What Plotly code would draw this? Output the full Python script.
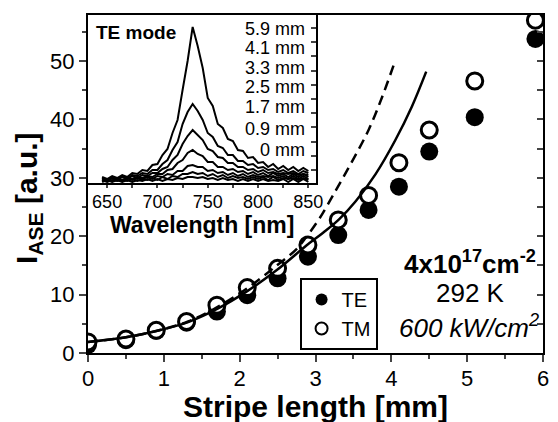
import plotly.graph_objects as go

# ---------------- data ----------------
stripe_len = [0, 0.5, 0.9, 1.3, 1.7, 2.1, 2.5, 2.9, 3.3, 3.7, 4.1, 4.5, 5.1, 5.9]
te_vals = [1.4, 2.2, 3.8, 5.2, 7.1, 9.9, 12.8, 16.5, 20.2, 24.5, 28.5, 34.5, 40.4, 53.8]
tm_vals = [1.9, 2.4, 3.9, 5.4, 8.2, 11.2, 14.5, 18.5, 22.8, 27.0, 32.6, 38.2, 46.6, 57.0]

fit_solid_x = [0, 0.5, 0.94, 1.32, 1.71, 2.1, 2.49, 2.88, 3.1, 3.31, 3.53, 3.79, 4.05, 4.27, 4.46]
fit_solid_y = [1.9, 2.7, 3.9, 5.3, 7.6, 10.6, 14.2, 18.4, 20.6, 22.9, 26.0, 30.6, 36.4, 42.2, 48.2]
fit_dash_x = [0, 0.5, 0.94, 1.32, 1.71, 2.1, 2.49, 2.75, 2.88, 3.05, 3.27, 3.49, 3.70, 3.88, 4.03]
fit_dash_y = [1.9, 2.7, 3.9, 5.4, 7.9, 11.1, 15.0, 17.8, 19.9, 23.0, 27.9, 33.0, 38.2, 43.9, 49.3]

wavelength = [645, 650, 655, 660, 665, 670, 675, 680, 685, 690, 695, 700, 705, 710,
              715, 720, 725, 730, 735, 740, 745, 750, 755, 760, 765, 770, 775, 780,
              785, 790, 795, 800, 805, 810, 815, 820, 825, 830, 835, 840, 845, 850]
spec_59 = [6, 4, 7, 5, 8, 6, 10, 9, 13, 12, 18, 19, 28, 34, 50, 63, 93, 122, 156, 137, 115,
           85, 77, 59, 55, 44, 42, 33, 32, 25, 26, 20, 21, 16, 19, 14, 17, 13, 16, 12, 15, 12]
spec_41 = [4, 2, 6, 3, 7, 4, 8, 7, 10, 9, 13, 13, 19, 23, 33, 41, 59, 71, 79, 72, 63,
           50, 46, 37, 35, 28, 28, 22, 22, 18, 19, 15, 16, 13, 14, 11, 13, 10, 12, 9, 12, 10]
spec_33 = [5, 2, 5, 3, 6, 4, 7, 5, 8, 7, 10, 10, 14, 16, 23, 28, 39, 47, 53, 48, 43,
           34, 32, 26, 25, 20, 20, 16, 16, 13, 14, 11, 13, 10, 11, 9, 10, 9, 10, 8, 9, 8]
spec_25 = [3, 4, 2, 5, 3, 5, 4, 6, 5, 7, 6, 9, 9, 13, 14, 20, 23, 30, 33, 29, 27,
           21, 21, 16, 16, 13, 14, 11, 12, 9, 11, 8, 10, 7, 10, 7, 9, 6, 9, 6, 9, 6]
spec_17 = [2, 4, 2, 4, 2, 5, 3, 5, 4, 6, 4, 7, 6, 9, 8, 12, 12, 17, 18, 16, 16,
           12, 13, 10, 11, 8, 10, 7, 9, 6, 8, 6, 7, 6, 7, 5, 7, 4, 7, 4, 7, 4]
spec_09 = [3, 1, 3, 2, 3, 2, 4, 2, 4, 3, 5, 3, 6, 4, 7, 6, 9, 9, 11, 9, 10,
           7, 9, 6, 8, 5, 7, 5, 6, 4, 6, 4, 6, 3, 6, 3, 5, 4, 5, 3, 5, 3]
spec_00 = [1, 3, 1, 3, 1, 3, 1, 3, 2, 4, 2, 4, 2, 4, 3, 5, 4, 6, 6, 5, 6,
           4, 5, 3, 5, 3, 4, 2, 4, 2, 4, 2, 4, 2, 3, 2, 4, 1, 4, 1, 4, 1]
spectra = [spec_59, spec_41, spec_33, spec_25, spec_17, spec_09, spec_00]
spec_labels = ["5.9 mm", "4.1 mm", "3.3 mm", "2.5 mm", "1.7 mm", "0.9 mm", "0 mm"]

FONT = "Liberation Sans, Arial, sans-serif"

fig = go.Figure()

# main plot markers
fig.add_trace(go.Scatter(x=stripe_len, y=te_vals, mode="markers", name="TE",
                         marker=dict(symbol="circle", size=18, color="black",
                                     line=dict(width=0))))
fig.add_trace(go.Scatter(x=stripe_len, y=tm_vals, mode="markers", name="TM",
                         marker=dict(symbol="circle", size=16, color="white",
                                     line=dict(width=3, color="black"))))
fig.add_trace(go.Scatter(x=fit_solid_x, y=fit_solid_y, mode="lines", showlegend=False,
                         line=dict(color="black", width=2.5, shape="spline")))
fig.add_trace(go.Scatter(x=fit_dash_x, y=fit_dash_y, mode="lines", showlegend=False,
                         line=dict(color="black", width=2.5, dash="10px,6px", shape="spline")))
# dummy for right-side inward ticks
fig.add_trace(go.Scatter(x=stripe_len, y=te_vals, mode="markers", showlegend=False,
                         yaxis="y3", marker=dict(opacity=0), hoverinfo="skip"))

# inset spectra
for s in spectra:
    fig.add_trace(go.Scatter(x=wavelength, y=s, mode="lines", showlegend=False,
                             xaxis="x2", yaxis="y2",
                             line=dict(color="black", width=2)))

ymax = 57.9
fig.update_layout(
    width=558, height=422,
    margin=dict(l=88, r=8, t=15, b=69),
    paper_bgcolor="white", plot_bgcolor="white",
    font=dict(family=FONT, color="black"),
    xaxis=dict(domain=[0, 1], range=[0, 6], dtick=1, tick0=0,
               ticks="outside", ticklen=7, tickwidth=2, ticklabelstandoff=-2,
               minor=dict(dtick=0.5, ticks="outside", ticklen=4, tickwidth=2),
               showline=True, linewidth=2, linecolor="black", mirror=True,
               showgrid=False, zeroline=False, tickfont=dict(size=22)),
    yaxis=dict(domain=[0, 1], range=[0, ymax], dtick=10, tick0=0,
               ticks="outside", ticklen=7, tickwidth=2,
               minor=dict(dtick=5, ticks="outside", ticklen=4, tickwidth=2),
               showline=True, linewidth=2, linecolor="black", mirror=True,
               showgrid=False, zeroline=False, tickfont=dict(size=22)),
    yaxis3=dict(overlaying="y", side="right", range=[0, ymax], dtick=5, tick0=0,
                ticks="inside", ticklen=6, tickwidth=2, showticklabels=False,
                showgrid=False, zeroline=False, showline=False),
    xaxis2=dict(domain=[0, 0.502], anchor="y2", range=[631, 858], dtick=50, tick0=650,
                ticks="outside", ticklen=3, tickwidth=2, ticklabelstandoff=-2,
                minor=dict(dtick=25, ticks="outside", ticklen=3, tickwidth=1.5),
                showline=True, linewidth=2, linecolor="black", mirror=True,
                showgrid=False, zeroline=False, tickfont=dict(size=18)),
    yaxis2=dict(domain=[0.503, 1], anchor="x2", range=[0, 168], side="right",
                tick0=13, dtick=14.2, ticks="inside", ticklen=5, tickwidth=2,
                showticklabels=False, showline=True, linewidth=2, linecolor="black",
                mirror=True, showgrid=False, zeroline=False),
    legend=dict(x=0.465, y=0.222, xanchor="left", yanchor="top",
                bgcolor="white", bordercolor="black", borderwidth=2,
                itemsizing="constant",
                font=dict(size=20, family=FONT), tracegroupgap=0),
    showlegend=True,
)

ann = []
ann.append(dict(text="<b>Stripe length [mm]</b>", xref="paper", yref="paper",
                x=0.5, y=(353 - 406) / 338, xanchor="center", yanchor="middle",
                showarrow=False, font=dict(size=30)))
ann.append(dict(text="<b>I<sub>ASE</sub> [a.u.]</b>", xref="paper", yref="paper",
                x=(27 - 88) / 462, y=(353 - 198) / 338, xanchor="center", yanchor="middle",
                textangle=-90, showarrow=False, font=dict(size=30)))
ann.append(dict(text="<b>Wavelength [nm]</b>", xref="paper", yref="paper",
                x=(204 - 88) / 462, y=(353 - 225) / 338, xanchor="center", yanchor="middle",
                showarrow=False, font=dict(size=23)))
ann.append(dict(text="<b>TE mode</b>", xref="paper", yref="paper",
                x=(94 - 88) / 462, y=(353 - 32) / 338, xanchor="left", yanchor="middle",
                showarrow=False, font=dict(size=19)))
label_y = [29, 48, 68, 87, 107, 129, 150]
for lab, py in zip(spec_labels, label_y):
    ann.append(dict(text=lab, xref="paper", yref="paper",
                    x=(310 - 88) / 462, y=(353 - py) / 338, xanchor="right", yanchor="middle",
                    showarrow=False, font=dict(size=18)))
ann.append(dict(text="<b>4x10<sup>17</sup>cm<sup>-2</sup></b>", xref="paper", yref="paper",
                x=(476 - 88) / 462, y=(353 - 262) / 338, xanchor="center", yanchor="middle",
                showarrow=False, font=dict(size=26)))
ann.append(dict(text="292 K", xref="paper", yref="paper",
                x=(476 - 88) / 462, y=(353 - 293) / 338, xanchor="center", yanchor="middle",
                showarrow=False, font=dict(size=26)))
ann.append(dict(text="<i>600 kW/cm<sup>2</sup></i>", xref="paper", yref="paper",
                x=(475 - 88) / 462, y=(353 - 326) / 338, xanchor="center", yanchor="middle",
                showarrow=False, font=dict(size=26)))
fig.update_layout(annotations=ann)

fig.write_html("out.html", config={"displayModeBar": False},
               post_script="document.body.style.margin='0px';")
